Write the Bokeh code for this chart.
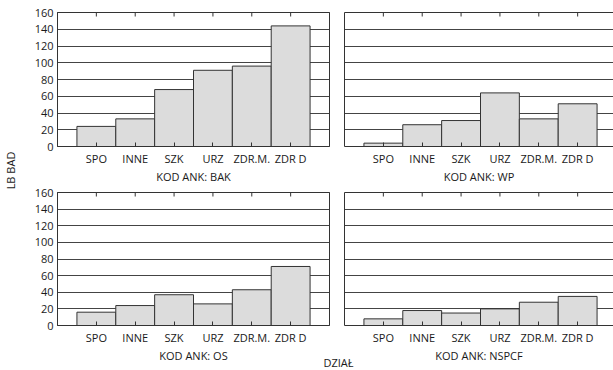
import math

from bokeh.plotting import figure
from bokeh.layouts import column, row
from bokeh.models import Range1d, FixedTicker, LinearAxis, Label, GridBox
from bokeh.embed import file_html
from bokeh.resources import INLINE

# Counts per department (DZIAŁ) for each survey code (KOD ANK)
categories = ["SPO", "INNE", "SZK", "URZ", "ZDR.M.", "ZDR D"]
bak = [24, 33, 68, 91, 96, 144]
wp = [4, 26, 31, 64, 33, 51]
os_ = [16, 24, 37, 26, 43, 71]
nspcf = [8, 18, 15, 20, 28, 35]
panel_titles = ["KOD ANK: BAK", "KOD ANK: WP", "KOD ANK: OS", "KOD ANK: NSPCF"]
y_ticks = [0, 20, 40, 60, 80, 100, 120, 140, 160]
y_label = "LB BAD"
x_label = "DZIAŁ"

FONT = "Open Sans"
TEXT = "#1a1a1a"
DARK = "#333333"
FILL = "#dcdcdc"

LEFT_W, RIGHT_W = 336, 277
TOP_H, BOTTOM_H = 186, 184
FRAME_LEFT_W = LEFT_W - 57 - 7
FRAME_RIGHT_W = RIGHT_W - 8
TICK_PX = 4


def make_panel(values, title, is_left, is_top):
    xs = [i + 1 for i in range(len(categories))]
    n_slots = len(categories) + 1
    if is_left:
        x_end = n_slots
        width, bl, br = LEFT_W, 57, 7
    else:
        # right column is cut at the page edge, same bar scale as the left one
        x_end = n_slots * FRAME_RIGHT_W / FRAME_LEFT_W
        width, bl, br = RIGHT_W, 8, 0
    if is_top:
        height, bt, bb = TOP_H, 12, 40
    else:
        height, bt, bb = BOTTOM_H, 6, 45
    frame_h = height - bt - bb
    y_top = y_ticks[-1]

    p = figure(width=width, height=height, output_backend="svg", toolbar_location=None,
               x_range=Range1d(0, x_end), y_range=Range1d(0, y_top),
               min_border_left=bl, min_border_right=br,
               min_border_top=bt, min_border_bottom=bb,
               x_axis_location=None, y_axis_location=None)
    p.outline_line_color = DARK if is_left else None
    p.background_fill_color = "white"
    p.border_fill_color = "white"

    p.vbar(x=xs, top=values, bottom=0, width=1.0,
           fill_color=FILL, line_color=DARK, line_width=1)

    # short inward tick marks hanging from the top edge
    tick_len = TICK_PX * y_top / frame_h
    p.segment(x0=xs, y0=[y_top] * len(xs), x1=xs, y1=[y_top - tick_len] * len(xs),
              line_color=DARK, line_width=1)

    xb = LinearAxis(ticker=FixedTicker(ticks=xs),
                    major_label_overrides={x: c for x, c in zip(xs, categories)},
                    axis_label=title)
    xb.major_tick_in = TICK_PX
    xb.major_tick_out = 0
    xb.minor_tick_line_color = None
    xb.axis_line_color = DARK
    xb.major_tick_line_color = DARK
    xb.major_label_standoff = 4
    xb.axis_label_standoff = 0
    xb.major_label_text_font = FONT
    xb.major_label_text_font_size = "11px"
    xb.major_label_text_color = TEXT
    xb.axis_label_text_font = FONT
    xb.axis_label_text_font_size = "11px"
    xb.axis_label_text_font_style = "normal"
    xb.axis_label_text_color = TEXT
    p.add_layout(xb, "below")

    xt = LinearAxis(ticker=FixedTicker(ticks=[]))
    xt.axis_line_color = DARK
    xt.major_label_standoff = 0
    p.add_layout(xt, "above")

    ya = LinearAxis(ticker=FixedTicker(ticks=y_ticks if is_left else []))
    ya.major_tick_in = 0
    ya.major_tick_out = 0
    ya.minor_tick_line_color = None
    ya.axis_line_color = DARK
    ya.major_label_text_font = FONT
    ya.major_label_text_color = TEXT
    ya.major_label_text_font_size = "11px"
    ya.major_label_standoff = 4 if is_left else 0
    p.add_layout(ya, "left")

    p.xgrid.visible = False
    p.ygrid.ticker = FixedTicker(ticks=y_ticks)
    p.ygrid.grid_line_color = "#444444"
    p.ygrid.grid_line_width = 1
    return p


p1 = make_panel(bak, panel_titles[0], True, True)
p2 = make_panel(wp, panel_titles[1], False, True)
p3 = make_panel(os_, panel_titles[2], True, False)
p4 = make_panel(nspcf, panel_titles[3], False, False)
panels = column(row(p1, p2), row(p3, p4))

# transparent layer on top of the panels holding the shared axis titles
W, H = LEFT_W + RIGHT_W, TOP_H + BOTTOM_H
ov = figure(width=W, height=H, output_backend="svg", toolbar_location=None,
            x_range=Range1d(0, W), y_range=Range1d(0, H),
            x_axis_location=None, y_axis_location=None, min_border=0)
ov.outline_line_color = None
ov.background_fill_color = None
ov.border_fill_color = None
ov.grid.visible = False
ov.add_layout(Label(x=10, y=H - 170, text=y_label, angle=math.pi / 2,
                    text_align="center", text_baseline="middle",
                    text_font=FONT, text_font_size="11px", text_color=TEXT))
ov.add_layout(Label(x=338, y=H - 362, text=x_label,
                    text_align="center", text_baseline="middle",
                    text_font=FONT, text_font_size="11px", text_color=TEXT))

layout = GridBox(children=[(panels, 0, 0), (ov, 0, 0)])

open("out.html", "w").write(file_html(layout, INLINE))
